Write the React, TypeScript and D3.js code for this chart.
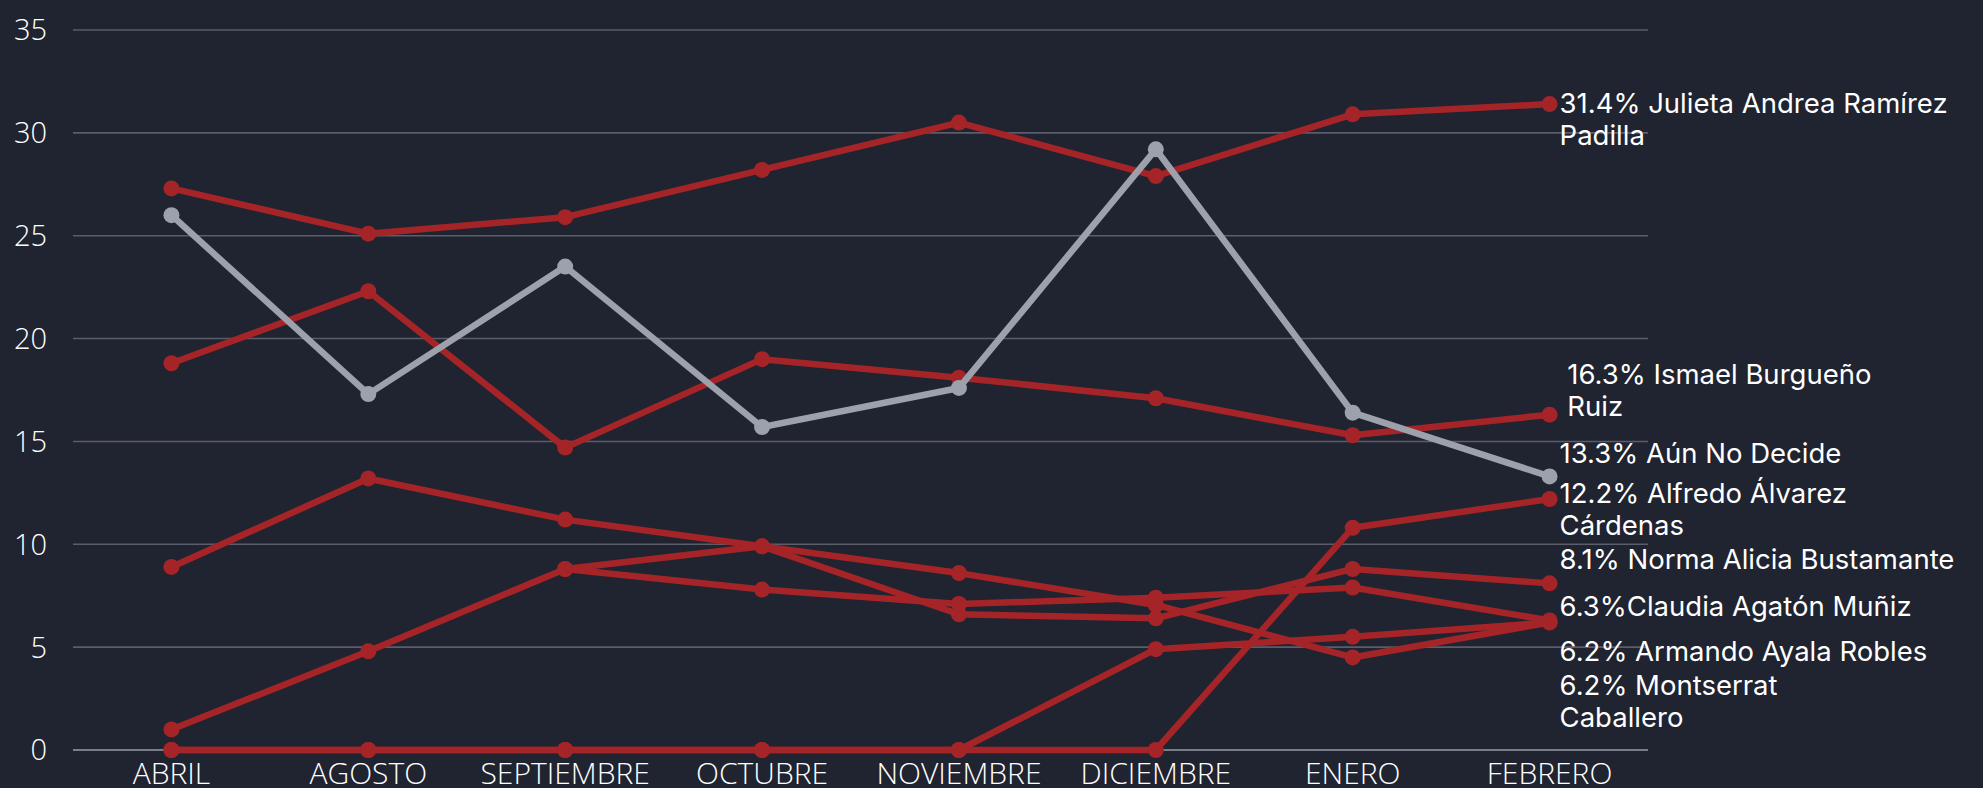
import React, { useEffect, useRef } from 'react';
import * as d3 from 'd3';

// months on the x axis
const months = ['ABRIL', 'AGOSTO', 'SEPTIEMBRE', 'OCTUBRE', 'NOVIEMBRE', 'DICIEMBRE', 'ENERO', 'FEBRERO'];
const yTicks = [0, 5, 10, 15, 20, 25, 30, 35];

// series values (null = no poll that month)
const julieta = [27.3, 25.1, 25.9, 28.2, 30.5, 27.9, 30.9, 31.4];
const ismael = [18.8, 22.3, 14.7, 19.0, 18.1, 17.1, 15.3, 16.3];
const noDecide = [26.0, 17.3, 23.5, 15.7, 17.6, 29.2, 16.4, 13.3];
const alfredo = [0, 0, 0, 0, 0, 0, 10.8, 12.2];
const norma = [1.0, 4.8, 8.8, 9.9, 6.6, 6.4, 8.8, 8.1];
const claudia = [null, null, 8.8, 7.8, 7.1, 7.4, 7.9, 6.3];
const armando = [8.9, 13.2, 11.2, 9.9, 8.6, 7.05, 4.5, 6.2];
const montserrat = [0, 0, 0, 0, 0, 4.9, 5.5, 6.2];

const seriesNames = ['Julieta', 'Ismael', 'Alfredo', 'Norma', 'Claudia', 'Armando', 'Montserrat', 'Aún No Decide'];
const seriesValues = [julieta, ismael, alfredo, norma, claudia, armando, montserrat, noDecide];

// end labels, one per series, possibly wrapped onto two lines
const labelLines = [
  ['31.4% Julieta Andrea Ramírez', 'Padilla'],
  [' 16.3% Ismael Burgueño', ' Ruiz'],
  ['12.2% Alfredo Álvarez', 'Cárdenas'],
  ['8.1% Norma Alicia Bustamante'],
  ['6.3%Claudia Agatón Muñiz'],
  ['6.2% Armando Ayala Robles'],
  ['6.2% Montserrat', 'Caballero'],
  ['13.3% Aún No Decide'],
];
// vertical nudge of each label relative to its last point (px)
const labelNudge = [8.6, -30.7, 3.7, -14, -4.4, 38.2, 72.5, -13.7];

const RED = '#a52428';
const GRAY = '#9ca1ab';
const BG = '#202330';

const W = 1983;
const H = 788;

const App: React.FC = () => {
  const svgRef = useRef<SVGSVGElement>(null);

  useEffect(() => {
    document.body.style.margin = '0';
    if (!svgRef.current) return;
    const svg = d3.select(svgRef.current);
    svg.selectAll('*').remove();

    svg.append('rect').attr('width', W).attr('height', H).attr('fill', BG);

    const x = d3.scaleBand().domain(months).range([73, 1648]);
    const cx = (m: string) => (x(m) as number) + x.bandwidth() / 2;
    const y = d3.scaleLinear().domain([0, 35]).range([750, 30]);

    // grid
    svg.append('g')
      .selectAll('line')
      .data(yTicks)
      .enter()
      .append('line')
      .attr('x1', 73)
      .attr('x2', 1648)
      .attr('y1', d => y(d))
      .attr('y2', d => y(d))
      .attr('stroke', d => (d === 0 ? '#9a9ca4' : '#5b5d6a'))
      .attr('stroke-width', 1.6);

    // y labels
    svg.append('g')
      .selectAll('text')
      .data(yTicks)
      .enter()
      .append('text')
      .attr('x', 47)
      .attr('y', d => y(d))
      .attr('dy', '0.36em')
      .attr('text-anchor', 'end')
      .attr('fill', '#ffffff')
      .attr('font-family', "'Open Sans', sans-serif")
      .attr('font-weight', 300)
      .attr('font-size', 29)
      .text(d => d);

    // x labels
    svg.append('g')
      .selectAll('text')
      .data(months)
      .enter()
      .append('text')
      .attr('x', d => cx(d))
      .attr('y', 784)
      .attr('text-anchor', 'middle')
      .attr('fill', '#ffffff')
      .attr('font-family', "'Open Sans', sans-serif")
      .attr('font-weight', 300)
      .attr('font-size', 30)
      .text(d => d);

    const line = d3.line<number | null>()
      .defined(d => d !== null)
      .x((_, i) => cx(months[i]))
      .y(d => y(d as number));

    seriesValues.forEach((vals, si) => {
      const color = seriesNames[si] === 'Aún No Decide' ? GRAY : RED;
      const g = svg.append('g');
      g.append('path')
        .datum(vals)
        .attr('d', line)
        .attr('fill', 'none')
        .attr('stroke', color)
        .attr('stroke-width', 6.5)
        .attr('stroke-linejoin', 'round');
      g.selectAll('circle')
        .data(vals.map((v, i) => ({ v, i })).filter(d => d.v !== null))
        .enter()
        .append('circle')
        .attr('cx', d => cx(months[d.i]))
        .attr('cy', d => y(d.v as number))
        .attr('r', 8)
        .attr('fill', color);
    });

    // end labels
    const lastX = cx(months[months.length - 1]) + 10;
    seriesValues.forEach((vals, si) => {
      const last = vals[vals.length - 1] as number;
      const t = svg.append('text')
        .attr('x', lastX)
        .attr('y', y(last) + labelNudge[si])
        .attr('fill', '#ffffff')
        .attr('font-family', 'Inter, sans-serif')
        .attr('font-size', 27.5)
        .attr('xml:space', 'preserve')
        .style('white-space', 'pre');
      labelLines[si].forEach((ln, li) => {
        t.append('tspan')
          .attr('x', lastX)
          .attr('dy', li === 0 ? 0 : 32.5)
          .text(ln);
      });
    });
  }, []);

  return <svg ref={svgRef} width={W} height={H} style={{ display: 'block' }} />;
};

export default App;
